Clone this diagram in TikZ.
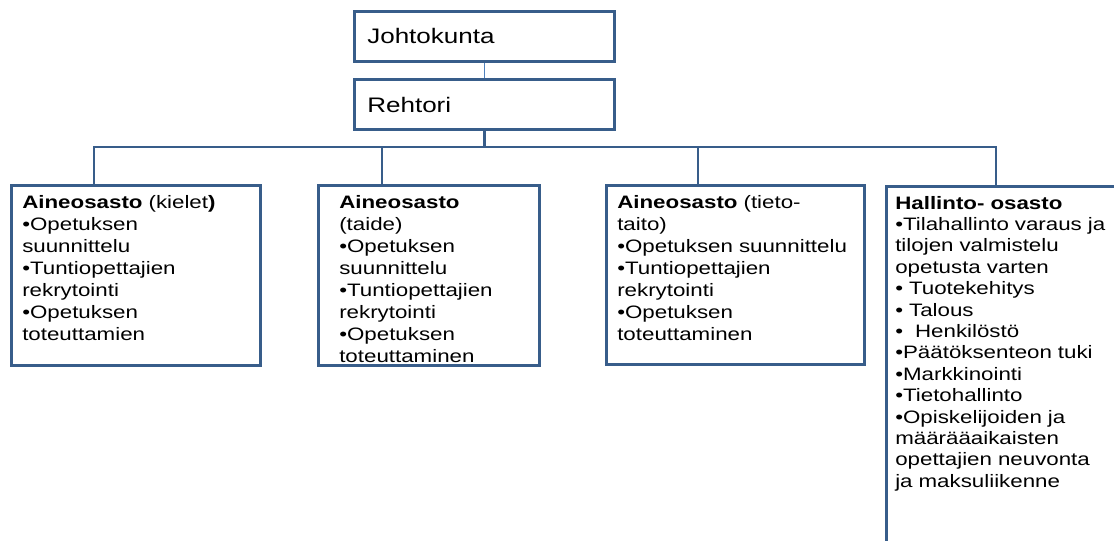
\documentclass[tikz,border=0pt]{standalone}
\usepackage{fontspec}
\newfontfamily\kaavio[FakeStretch=1.24]{Liberation Sans}
\definecolor{reuna}{RGB}{56,93,138}
\definecolor{vaalea}{RGB}{79,129,189}
\tikzset{
laatikko/.style={draw=reuna, line width=2.25pt, rectangle, inner sep=0pt},
teksti/.style={anchor=base west, inner sep=0pt, text width=250pt, align=left,
  font=\kaavio\fontsize{13.5}{16.5}\selectfont},
yhteys/.style={draw=reuna, line width=1.75pt},
}
\begin{document}
\begin{tikzpicture}[x=0.75pt,y=-0.75pt]
\useasboundingbox (0,0) rectangle (1114,540);
\clip (0,0) rectangle (1114,540);

\node[laatikko, minimum width=195pt, minimum height=37.5pt] (johto) at (484.5,36.5) {};
\node[laatikko, minimum width=195pt, minimum height=37.5pt] (rehtori) at (484.5,104) {};
\node[laatikko, minimum width=186.75pt, minimum height=135pt] (kielet) at (136,275.5) {};
\node[laatikko, minimum width=165.75pt, minimum height=135pt] (taide) at (429,275.5) {};
\node[laatikko, minimum width=193.5pt, minimum height=134.25pt] (tieto) at (735.5,275) {};
\node[laatikko, anchor=north west, minimum width=240pt, minimum height=300pt] (hallinto) at (884.5,184.5) {};

\coordinate (v1) at (94,147);
\coordinate (v2) at (382,147);
\coordinate (v3) at (698,147);
\coordinate (v4) at (996,147);

\draw[draw=vaalea, line width=1.2pt] (johto) -- (rehtori);
\draw[yhteys] (rehtori.south) -- (rehtori.south |- v1);
\draw[yhteys] (kielet.north -| v1) -- (v1) -- (v4) -- (hallinto.north -| v4);
\draw[yhteys] (v2) -- (taide.north -| v2);
\draw[yhteys] (v3) -- (tieto.north -| v3);

\node[teksti, font=\kaavio\fontsize{15.75}{18}\selectfont] (tjohto) at (367,43) {Johtokunta};
\node[teksti, font=\kaavio\fontsize{15.75}{18}\selectfont] (trehtori) at (367,112) {Rehtori};

\node[teksti] (tkielet) at (22,208) {\textbf{Aineosasto} (kielet\textbf{)}\\
•Opetuksen\\ suunnittelu\\ •Tuntiopettajien\\ rekrytointi\\ •Opetuksen\\ toteuttamien};
\node[teksti] (ttaide) at (339,208) {\textbf{Aineosasto}\\ (taide)\\
•Opetuksen\\ suunnittelu\\ •Tuntiopettajien\\ rekrytointi\\ •Opetuksen\\ toteuttaminen};
\node[teksti] (ttieto) at (617,208) {\textbf{Aineosasto} (tieto-\\ taito)\\
•Opetuksen suunnittelu\\ •Tuntiopettajien\\ rekrytointi\\ •Opetuksen\\ toteuttaminen};
\node[teksti, font=\kaavio\fontsize{13.5}{16.05}\selectfont] (thallinto) at (895,209) {\textbf{Hallinto- osasto}\\
•Tilahallinto varaus ja\\ tilojen valmistelu\\ opetusta varten\\ • Tuotekehitys\\ • Talous\\
•~ Henkilöstö\\ •Päätöksenteon tuki\\ •Markkinointi\\ •Tietohallinto\\ •Opiskelijoiden ja\\
määrääaikaisten\\ opettajien neuvonta\\ ja maksuliikenne};

\end{tikzpicture}
\end{document}
